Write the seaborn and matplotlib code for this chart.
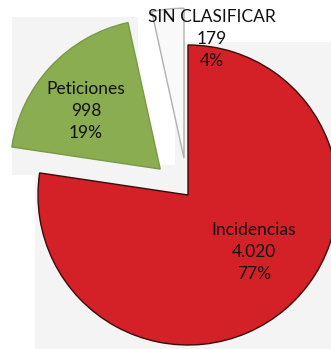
import matplotlib
matplotlib.use("Agg")
import matplotlib.pyplot as plt
import matplotlib.patches as mpatches
import seaborn as sns

sns.set_theme(style="white")
plt.rcParams["font.family"] = ["Lato", "DejaVu Sans"]

# Ticket counts by type
categories = ["Incidencias", "Peticiones", "SIN CLASIFICAR"]
counts = [4020, 998, 179]
pct_labels = [77, 19, 4]

colors = ["#d42027", "#8aad52", "#f9f9f9"]
edge_colors = ["#3a0b0b", "#789a43", "#b0b0b0"]
explode = [0, 38, 37]

W, H = 331, 349
fig = plt.figure(figsize=(W / 100, H / 100), dpi=100, facecolor="white")

# light grey plot area behind the pie
def backdrop(x0, y0, x1, y1):
    fig.patches.append(mpatches.Rectangle((x0 / W, 1 - y1 / H), (x1 - x0) / W, (y1 - y0) / H,
                                          transform=fig.transFigure, facecolor="#f4f4f4",
                                          edgecolor="none", zorder=-5))

backdrop(35, 165, W, H)
backdrop(12, 17, 138, 175)
backdrop(175, 42, W, 165)

ax = fig.add_axes([0, 0, 1, 1])
ax.set_facecolor("none")

wedges, _ = ax.pie(counts, colors=colors, explode=explode, startangle=90,
                   counterclock=False, radius=150, center=(188, H - 195),
                   frame=True, wedgeprops=dict(linewidth=1.0))
for w, ec in zip(wedges, edge_colors):
    w.set_edgecolor(ec)
ax.set_xlim(0, W)
ax.set_ylim(0, H)
ax.set_aspect("equal")
ax.axis("off")

def fmt(n):
    return f"{n:,}".replace(",", ".")

label_pos = [(254, H - 252), (86, H - 111), (212, H - 39)]
for cat, n, p, (x, y) in zip(categories, counts, pct_labels, label_pos):
    ax.text(x, y, f"{cat}\n{fmt(n)}\n{p}%", ha="center", va="center",
            fontsize=12.5, color="#111111", linespacing=1.48)

fig.savefig("out.png", dpi=100, facecolor=fig.get_facecolor())
